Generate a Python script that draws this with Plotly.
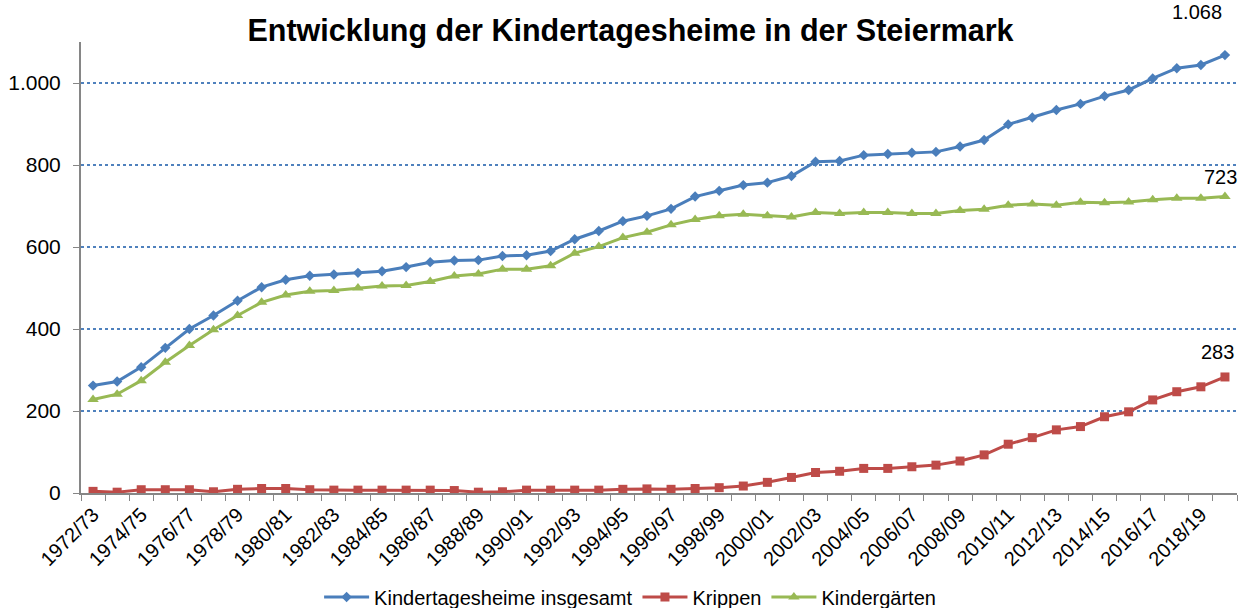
import plotly.graph_objects as go

years = [f"{y}/{(y + 1) % 100:02d}" for y in range(1972, 2020)]

insgesamt = [262, 272, 307, 354, 400, 433, 469, 502, 520, 530, 533, 537, 541, 551, 563, 567,
             568, 578, 580, 590, 619, 639, 663, 676, 693, 723, 737, 751, 757, 773, 808, 810,
             824, 827, 830, 832, 845, 861, 899, 916, 934, 949, 968, 983, 1011, 1036, 1044, 1068]
krippen = [4, 2, 8, 8, 8, 3, 9, 11, 11, 8, 7, 7, 7, 7, 7, 6,
           2, 3, 7, 7, 7, 7, 9, 10, 9, 11, 13, 17, 26, 38, 50, 53,
           60, 60, 64, 68, 78, 93, 119, 135, 154, 162, 186, 198, 227, 247, 259, 283]
kindergaerten = [228, 241, 274, 319, 360, 398, 433, 465, 483, 492, 494, 500, 505, 506, 516, 529,
                 534, 546, 546, 554, 585, 601, 623, 636, 654, 667, 676, 680, 676, 673, 684, 682,
                 684, 684, 682, 682, 689, 692, 702, 705, 702, 709, 708, 710, 715, 719, 719, 723]

series_names = ["Kindertagesheime insgesamt", "Krippen", "Kindergärten"]
colors = ["#4A7EBB", "#BE4B48", "#98B954"]
symbols = ["diamond", "square", "triangle-up"]
msizes = [8, 9, 10]

FONT = "Liberation Sans, Arial, sans-serif"
xs = list(range(len(years)))

fig = go.Figure()
for name, vals, c, s, ms in zip(series_names, [insgesamt, krippen, kindergaerten], colors, symbols, msizes):
    fig.add_trace(go.Scatter(
        x=xs, y=vals, name=name, mode="lines+markers",
        line=dict(color=c, width=3),
        marker=dict(symbol=s, size=ms, color=c),
    ))

def fmt(v):
    return f"{v:,}".replace(",", ".")

label_shifts = [(-28, 43), (-4, 20), (-7, 25)]
for vals, (dx, dy) in zip([insgesamt, kindergaerten, krippen], label_shifts):
    fig.add_annotation(x=xs[-1], y=vals[-1], text=fmt(vals[-1]), showarrow=False,
                       xshift=dx, yshift=dy, font=dict(family=FONT, size=20, color="#000000"))

fig.update_layout(
    width=1256, height=608,
    margin=dict(l=81, r=19, t=42, b=115),
    paper_bgcolor="white", plot_bgcolor="white",
    separators=",.",
    title=dict(text="<b>Entwicklung der Kindertagesheime in der Steiermark</b>",
               x=0.502, xanchor="center", y=1 - 30 / 608, yanchor="middle", yref="container",
               font=dict(family=FONT, size=30.5, color="#000000")),
    legend=dict(orientation="h", x=0.475, xanchor="center", yref="container",
                y=1 - 597 / 608, yanchor="middle", itemwidth=45,
                font=dict(family=FONT, size=20, color="#000000")),
    font=dict(family=FONT, color="#000000"),
)
fig.update_xaxes(
    range=[-0.5, len(years) - 0.5],
    tickmode="array", tickvals=xs[::2], ticktext=years[::2],
    tickangle=-45, tickfont=dict(family=FONT, size=20, color="#000000"),
    ticks="", showgrid=False, zeroline=False, automargin=False,
    showline=True, linecolor="#868686", linewidth=2,
    minor=dict(tick0=-0.5, dtick=1, ticks="outside", ticklen=6, tickcolor="#868686", tickwidth=1, showgrid=False),
)
fig.update_yaxes(
    range=[0, 1100], tickvals=[0, 200, 400, 600, 800, 1000],
    tickformat=",d", tickfont=dict(family=FONT, size=21, color="#000000"),
    ticks="outside", ticklen=6, tickcolor="#868686", automargin=False,
    ticklabelstandoff=8,
    showgrid=True, gridcolor="#4F81BD", griddash="dot", gridwidth=1.5,
    zeroline=False, showline=True, linecolor="#868686", linewidth=2,
)

fig.write_html("out.html", config={"displayModeBar": False},
               post_script="document.body.style.margin='0px';")
